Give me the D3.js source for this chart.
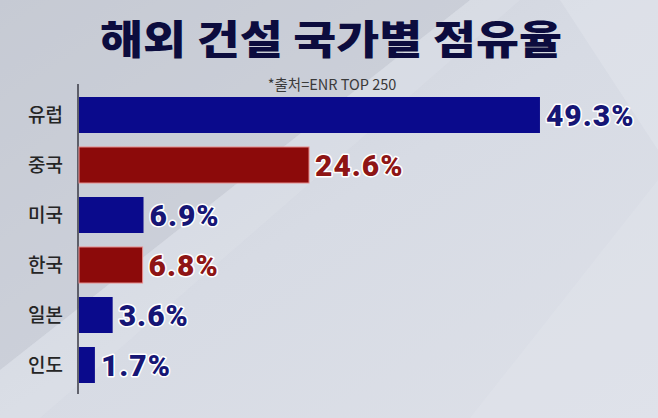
<!DOCTYPE html>
<html><head><meta charset="utf-8">
<script src="https://cdn.jsdelivr.net/npm/d3@7"></script>
<style>html,body{margin:0;padding:0;overflow:hidden;background:#d6dae3}</style>
</head><body>
<script>
const categories = ["유럽","중국","미국","한국","일본","인도"];
const values = [49.3, 24.6, 6.9, 6.8, 3.6, 1.7];
const valueLabels = ["49.3%","24.6%","6.9%","6.8%","3.6%","1.7%"];
const highlight = [false, true, false, true, false, false];
const title = "해외 건설 국가별 점유율";
const source = "*출처=ENR TOP 250";

const W = 658, H = 418;
const svg = d3.select("body").append("svg").attr("width", W).attr("height", H);

// background
const defs = svg.append("defs");
const g1 = defs.append("linearGradient").attr("id","bg").attr("x1","0").attr("y1","0").attr("x2","1").attr("y2","1");
g1.append("stop").attr("offset","0").attr("stop-color","#cbcfd8");
g1.append("stop").attr("offset","0.5").attr("stop-color","#d7dbe4");
g1.append("stop").attr("offset","1").attr("stop-color","#dde0e8");
svg.append("rect").attr("width",W).attr("height",H).attr("fill","url(#bg)");
svg.append("polygon").attr("points","0,0 470,0 0,370").attr("fill","#c2c6cf").attr("opacity",0.5);
svg.append("polygon").attr("points","470,0 520,0 40,418 0,418 0,370").attr("fill","#e2e5ec").attr("opacity",0.3);
svg.append("polygon").attr("points","560,0 658,0 658,150").attr("fill","#e8ebf1").attr("opacity",0.35);
svg.append("polygon").attr("points","658,180 658,418 470,418").attr("fill","#e6e9ef").attr("opacity",0.3);

// title
svg.append("text").attr("x",331).attr("y",54).attr("text-anchor","middle")
  .attr("font-family","'Noto Sans CJK KR'").attr("font-weight",900).attr("font-size",40)
  .attr("fill","#0c0c3e").attr("textLength",462).attr("lengthAdjust","spacingAndGlyphs")
  .text(title);
svg.append("text").attr("x",332).attr("y",90).attr("text-anchor","middle")
  .attr("font-family","'Noto Sans CJK KR'").attr("font-size",14.5)
  .attr("fill","#3a3a3a").text(source);

const x0 = 79;
const x = d3.scaleLinear().domain([0, 55]).range([x0, x0 + 55*9.35]);
const y = d3.scaleBand().domain(categories).range([90, 390]).paddingInner(0.28).paddingOuter(0.14);

// axis line
svg.append("line").attr("x1",x0-1).attr("x2",x0-1).attr("y1",84).attr("y2",394)
  .attr("stroke","#3a3a44").attr("stroke-width",1.5);

const navy = "#0a0a8c", red = "#8c0a0a";
svg.selectAll("rect.bar").data(categories).join("rect").attr("class","bar")
  .attr("x", x(0)).attr("y", d => y(d)).attr("height", y.bandwidth())
  .attr("width", (d,i) => x(values[i]) - x(0))
  .attr("fill", (d,i) => highlight[i] ? red : navy)
  .attr("stroke", (d,i) => highlight[i] ? "#e58b8b" : "none").attr("stroke-width",1);

svg.selectAll("text.cat").data(categories).join("text").attr("class","cat")
  .attr("x", 63).attr("y", d => y(d) + y.bandwidth()/2 + 7)
  .attr("text-anchor","end").attr("font-family","'Noto Sans CJK KR'").attr("font-size",19)
  .attr("font-weight",500).attr("fill","#252525").text(d => d);

svg.selectAll("text.val").data(categories).join("text").attr("class","val")
  .attr("x", (d,i) => x(values[i]) + 6).attr("y", d => y(d) + y.bandwidth()/2 + 11)
  .attr("font-family","Roboto").attr("font-weight",900).attr("font-size",30)
  .attr("letter-spacing",1)
  .attr("fill", (d,i) => highlight[i] ? "#8e1515" : "#161675")
  .attr("stroke","#ffffff").attr("stroke-width",3).attr("paint-order","stroke")
  .attr("stroke-linejoin","round")
  .text((d,i) => valueLabels[i]);
</script>
</body></html>
